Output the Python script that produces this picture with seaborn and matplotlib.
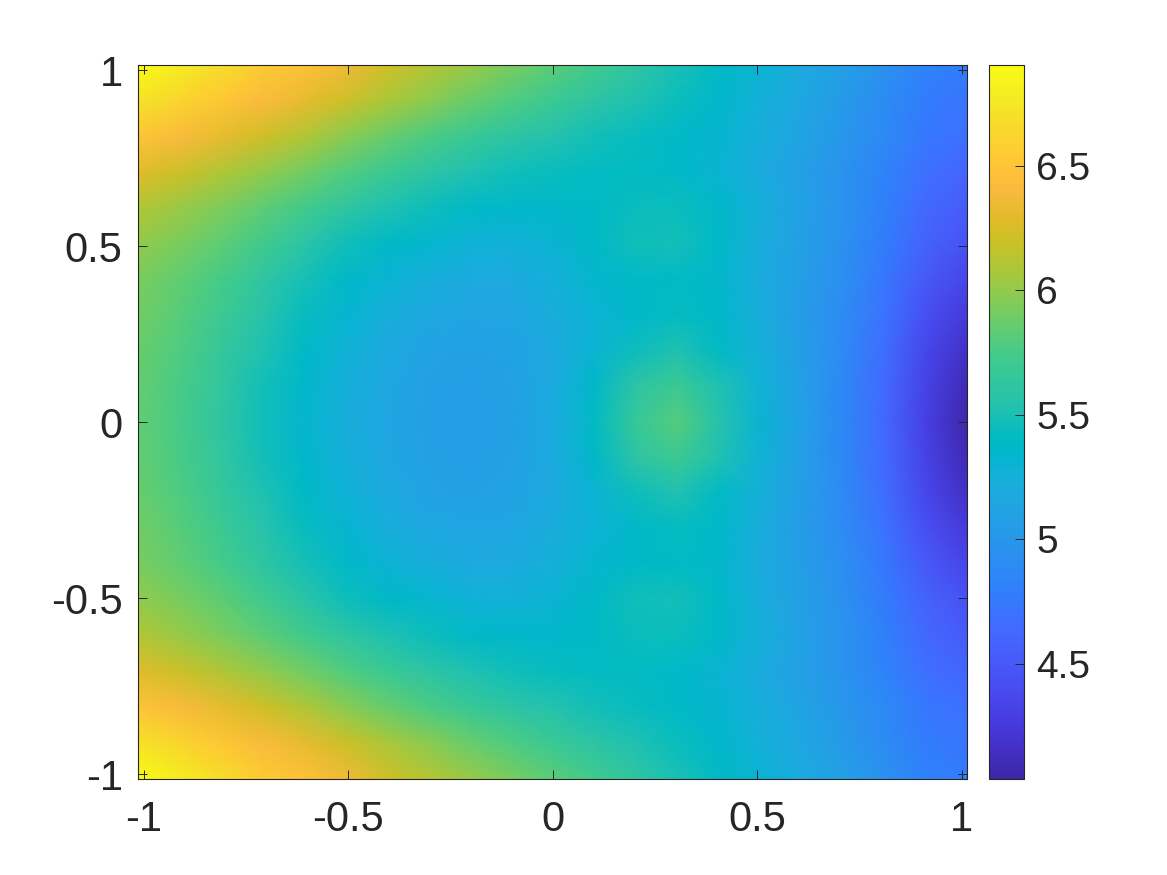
import numpy as np
import matplotlib
matplotlib.use("Agg")
import matplotlib.pyplot as plt
from matplotlib.colors import LinearSegmentedColormap
import seaborn as sns

parula_rgb = [
 (0.2422,0.1504,0.6603),(0.2504,0.1650,0.7076),(0.2578,0.1818,0.7511),(0.2647,0.1978,0.7952),
 (0.2706,0.2147,0.8364),(0.2751,0.2342,0.8710),(0.2783,0.2559,0.8991),(0.2803,0.2782,0.9221),
 (0.2813,0.3006,0.9414),(0.2810,0.3228,0.9579),(0.2795,0.3447,0.9717),(0.2760,0.3667,0.9829),
 (0.2699,0.3892,0.9906),(0.2602,0.4123,0.9952),(0.2440,0.4358,0.9988),(0.2206,0.4603,0.9973),
 (0.1963,0.4847,0.9892),(0.1834,0.5074,0.9798),(0.1786,0.5289,0.9682),(0.1764,0.5499,0.9520),
 (0.1687,0.5703,0.9359),(0.1540,0.5902,0.9218),(0.1460,0.6091,0.9079),(0.1380,0.6276,0.8973),
 (0.1248,0.6459,0.8883),(0.1113,0.6635,0.8763),(0.0952,0.6798,0.8598),(0.0689,0.6948,0.8394),
 (0.0297,0.7082,0.8163),(0.0036,0.7203,0.7917),(0.0067,0.7312,0.7660),(0.0433,0.7411,0.7394),
 (0.0964,0.7500,0.7120),(0.1408,0.7584,0.6842),(0.1717,0.7670,0.6554),(0.1938,0.7758,0.6251),
 (0.2161,0.7843,0.5923),(0.2470,0.7918,0.5567),(0.2906,0.7973,0.5188),(0.3406,0.8008,0.4789),
 (0.3909,0.8029,0.4354),(0.4456,0.8024,0.3909),(0.5044,0.7993,0.3480),(0.5616,0.7942,0.3045),
 (0.6174,0.7876,0.2612),(0.6720,0.7793,0.2227),(0.7242,0.7698,0.1910),(0.7738,0.7598,0.1646),
 (0.8203,0.7498,0.1535),(0.8634,0.7406,0.1596),(0.9035,0.7330,0.1774),(0.9393,0.7288,0.2100),
 (0.9728,0.7298,0.2394),(0.9956,0.7434,0.2371),(0.9970,0.7659,0.2199),(0.9952,0.7893,0.2028),
 (0.9892,0.8136,0.1885),(0.9786,0.8386,0.1766),(0.9676,0.8639,0.1643),(0.9610,0.8890,0.1537),
 (0.9597,0.9135,0.1423),(0.9628,0.9373,0.1265),(0.9691,0.9606,0.1064),(0.9769,0.9839,0.0805)]

# values, rows y = 1.0 ... 0.0, columns x = -1.0 ... 1.0
row_p10 = [6.90,6.80,6.68,6.55,6.47,6.36,6.22,6.12,6.02,5.92,5.82,5.72,5.62,5.50,5.40,5.30,5.18,5.08,4.95,4.82,4.78]
row_p09 = [6.72,6.62,6.52,6.42,6.32,6.20,6.08,5.98,5.87,5.78,5.69,5.60,5.52,5.44,5.35,5.25,5.15,5.03,4.90,4.78,4.72]
row_p08 = [6.50,6.42,6.32,6.22,6.10,5.98,5.87,5.77,5.68,5.60,5.54,5.48,5.43,5.38,5.32,5.23,5.12,5.00,4.88,4.74,4.68]
row_p07 = [6.28,6.20,6.10,6.00,5.90,5.79,5.69,5.60,5.52,5.46,5.43,5.41,5.41,5.38,5.30,5.20,5.08,4.96,4.83,4.68,4.60]
row_p06 = [6.10,6.03,5.94,5.84,5.73,5.62,5.52,5.45,5.39,5.35,5.35,5.39,5.44,5.44,5.36,5.24,5.10,4.96,4.80,4.63,4.52]
row_p05 = [6.00,5.93,5.84,5.72,5.59,5.47,5.39,5.33,5.28,5.26,5.30,5.39,5.47,5.48,5.38,5.22,5.08,4.95,4.77,4.58,4.45]
row_p04 = [5.93,5.85,5.75,5.62,5.49,5.38,5.30,5.23,5.19,5.19,5.25,5.33,5.38,5.40,5.34,5.20,5.06,4.93,4.74,4.50,4.35]
row_p03 = [5.90,5.81,5.70,5.57,5.43,5.32,5.23,5.16,5.13,5.14,5.22,5.29,5.36,5.42,5.36,5.22,5.05,4.90,4.70,4.42,4.24]
row_p02 = [5.87,5.78,5.66,5.52,5.38,5.27,5.18,5.11,5.08,5.12,5.19,5.30,5.45,5.52,5.40,5.24,5.06,4.88,4.66,4.36,4.16]
row_p01 = [5.86,5.76,5.63,5.48,5.35,5.24,5.15,5.08,5.06,5.10,5.18,5.36,5.60,5.70,5.52,5.28,5.07,4.87,4.64,4.32,4.09]
row_00  = [5.85,5.75,5.62,5.47,5.33,5.23,5.14,5.07,5.05,5.09,5.19,5.40,5.67,5.80,5.55,5.30,5.08,4.87,4.63,4.30,4.05]
upper_rows = [row_p10,row_p09,row_p08,row_p07,row_p06,row_p05,row_p04,row_p03,row_p02,row_p01]

tick_values = [-1, -0.5, 0, 0.5, 1]
tick_labels = ["-1", "-0.5", "0", "0.5", "1"]
cbar_values = [4.5, 5, 5.5, 6, 6.5]
cbar_labels = ["4.5", "5", "5.5", "6", "6.5"]

TEXT = (0.15, 0.15, 0.15)
W, H = 1167, 875
plt.rcParams['font.family'] = ['Liberation Sans', 'DejaVu Sans']

grid = np.array(upper_rows + [row_00] + upper_rows[::-1])
cmap = LinearSegmentedColormap.from_list("parula", parula_rgb, N=256)

fig = plt.figure(figsize=(W/100, H/100), dpi=100)
def box(l, t, r, b):
    return [l/W, 1-b/H, (r-l)/W, (b-t)/H]
ax = fig.add_axes(box(138, 65, 967.5, 779))
cax = fig.add_axes(box(989, 65, 1024, 779))

sns.heatmap(grid, ax=ax, cbar_ax=cax, cmap=cmap, vmin=4.038, vmax=6.904,
            xticklabels=False, yticklabels=False, shading='gouraud',
            cbar_kws={'ticks': cbar_values})

nx, ny = grid.shape[1]-1, grid.shape[0]-1
ax.set_xlim(0, nx)
ax.set_ylim(ny, 0)
x0, x1 = -1.0135, 1.0145
y0, y1 = -1.0142, 1.0156
ax.set_xticks([(v-x0)/(x1-x0)*nx for v in tick_values])
ax.set_xticklabels(tick_labels)
ax.set_yticks([(y1-v)/(y1-y0)*ny for v in tick_values])
ax.set_yticklabels(tick_labels)
ax.tick_params(direction='in', top=True, right=True, length=6.5, width=0.7, color=TEXT,
               labelcolor=TEXT, labelsize=30, pad=15, rotation=0)
ax.tick_params(axis='y', pad=11)
for s in ax.spines.values():
    s.set_visible(True); s.set_linewidth(0.8); s.set_color(TEXT)

cb = ax.collections[0].colorbar
cb.set_ticks(cbar_values, labels=cbar_labels)
cb.outline.set_visible(True); cb.outline.set_linewidth(0.8); cb.outline.set_edgecolor(TEXT)
cax.tick_params(direction='in', length=6.5, width=0.7, color=TEXT, labelcolor=TEXT,
                labelsize=28, pad=9)
fig.savefig("out.png", dpi=100)
